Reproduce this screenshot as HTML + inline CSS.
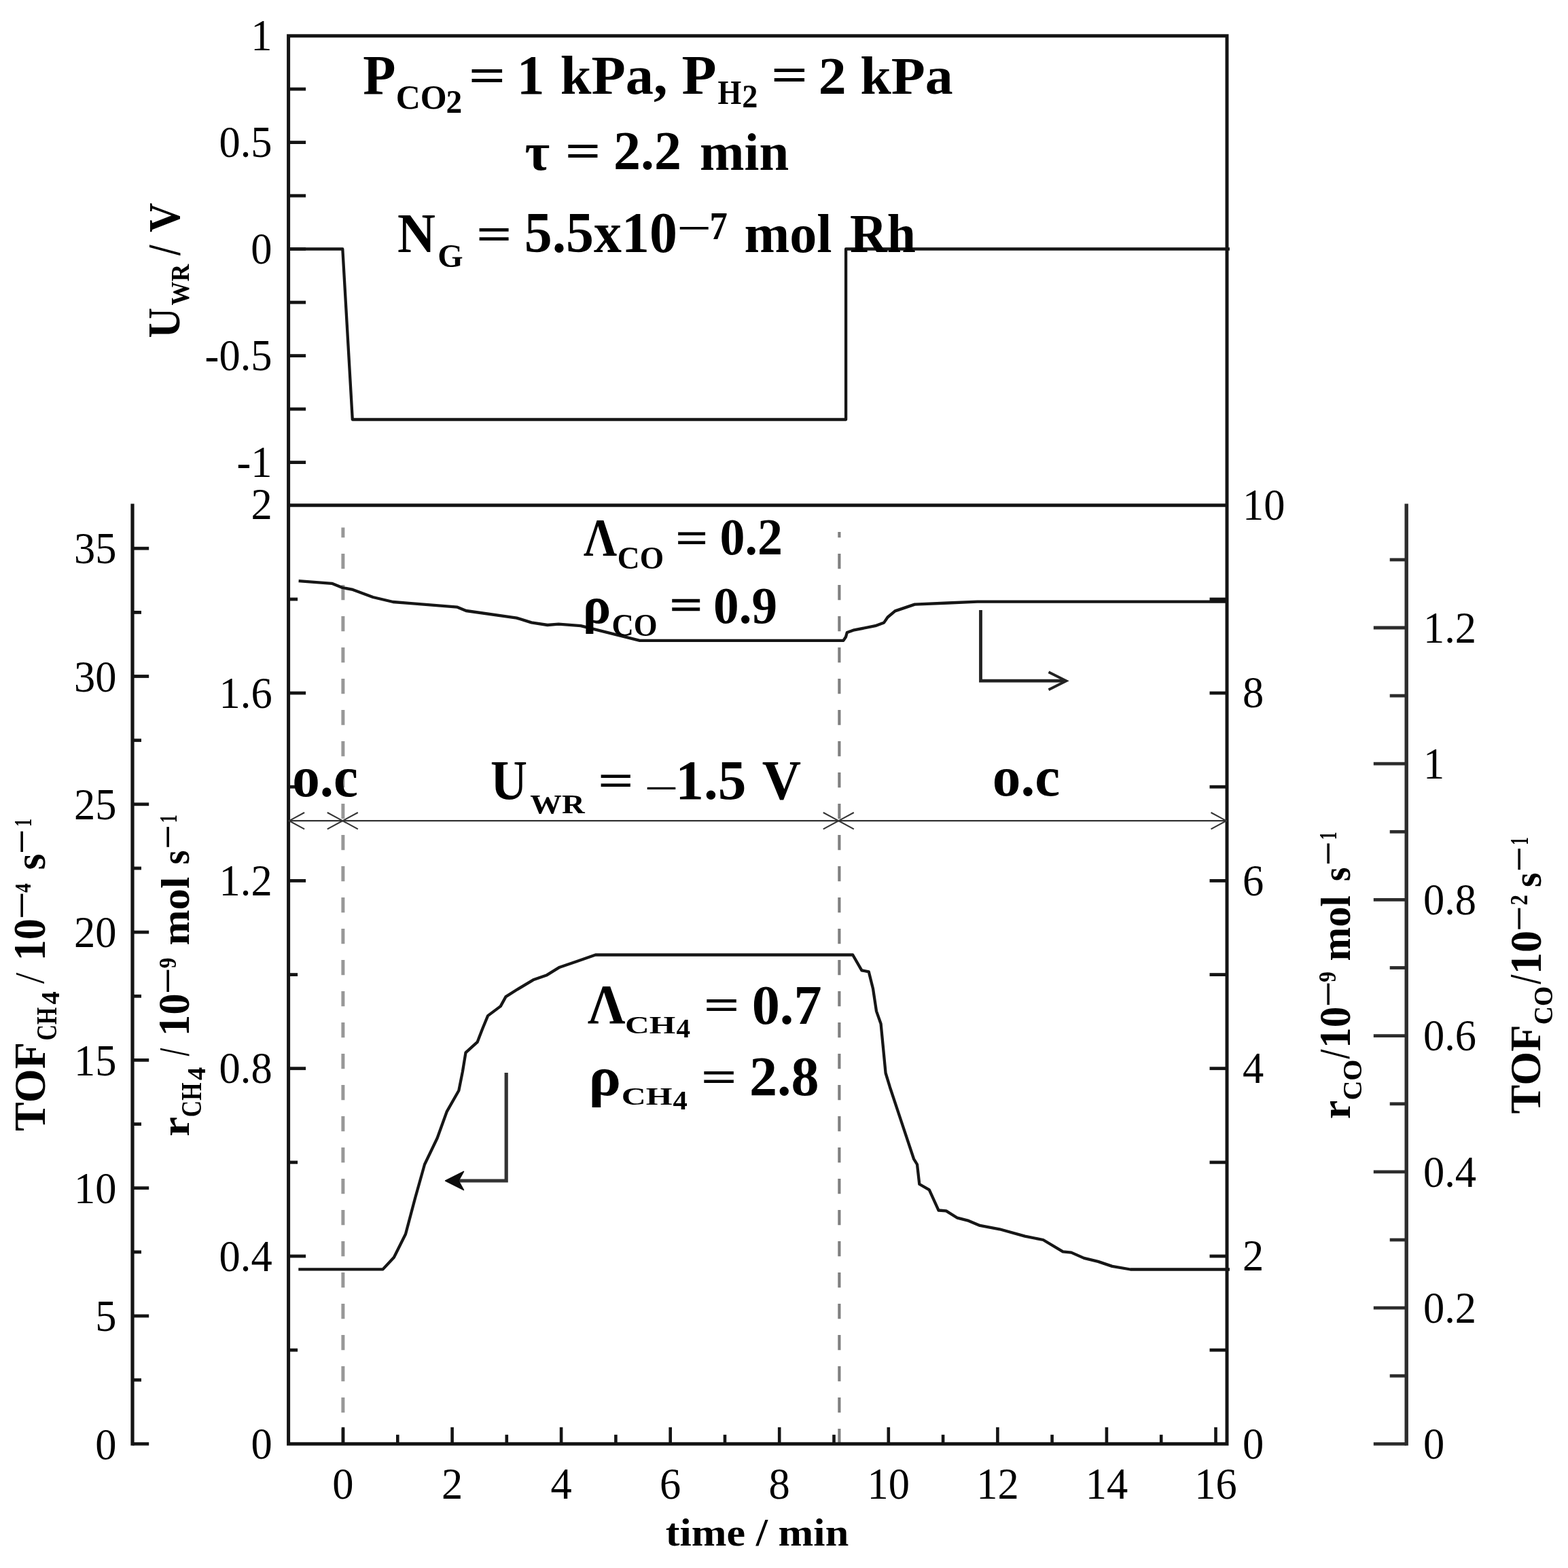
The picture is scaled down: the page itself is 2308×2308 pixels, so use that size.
<!DOCTYPE html>
<html lang="en">
<head>
<meta charset="utf-8">
<title>Transient rate response</title>
<style>html,body{margin:0;padding:0;background:#fff}svg{display:block}text{white-space:pre}</style>
</head>
<body>
<svg xmlns="http://www.w3.org/2000/svg" width="2308" height="2308" viewBox="0 0 2308 2308" font-family='"Liberation Serif", serif' fill="#000">
<rect width="2308" height="2308" fill="#fff"/>
<g id="dashes">
<line x1="504.9" y1="2125.3" x2="504.9" y2="776.5" stroke="#989898" stroke-width="5.0" stroke-dasharray="22.4 23.6"/>
<line x1="1235.4" y1="2125.3" x2="1235.4" y2="783.0" stroke="#808080" stroke-width="4.2" stroke-dasharray="22.4 23.6"/>
</g>
<g id="axes" fill="none">
<rect x="424.6" y="52.8" width="1381.4" height="2072.5" stroke="#141414" stroke-width="5.0" fill="none"/>
<line x1="424.6" y1="743.8" x2="1806.0" y2="743.8" stroke="#141414" stroke-width="5.0" />
<line x1="424.6" y1="131.1" x2="450.1" y2="131.1" stroke="#141414" stroke-width="4.8" />
<line x1="424.6" y1="209.6" x2="450.1" y2="209.6" stroke="#141414" stroke-width="4.8" />
<line x1="424.6" y1="288.1" x2="450.1" y2="288.1" stroke="#141414" stroke-width="4.8" />
<line x1="424.6" y1="366.6" x2="450.1" y2="366.6" stroke="#141414" stroke-width="4.8" />
<line x1="424.6" y1="445.1" x2="450.1" y2="445.1" stroke="#141414" stroke-width="4.8" />
<line x1="424.6" y1="523.6" x2="450.1" y2="523.6" stroke="#141414" stroke-width="4.8" />
<line x1="424.6" y1="602.1" x2="450.1" y2="602.1" stroke="#141414" stroke-width="4.8" />
<line x1="424.6" y1="680.6" x2="450.1" y2="680.6" stroke="#141414" stroke-width="4.8" />
<line x1="424.6" y1="1987.2" x2="438.1" y2="1987.2" stroke="#141414" stroke-width="4.8" />
<line x1="424.6" y1="1849.0" x2="450.1" y2="1849.0" stroke="#141414" stroke-width="4.8" />
<line x1="424.6" y1="1710.9" x2="438.1" y2="1710.9" stroke="#141414" stroke-width="4.8" />
<line x1="424.6" y1="1572.7" x2="450.1" y2="1572.7" stroke="#141414" stroke-width="4.8" />
<line x1="424.6" y1="1434.6" x2="438.1" y2="1434.6" stroke="#141414" stroke-width="4.8" />
<line x1="424.6" y1="1296.4" x2="450.1" y2="1296.4" stroke="#141414" stroke-width="4.8" />
<line x1="424.6" y1="1158.2" x2="438.1" y2="1158.2" stroke="#141414" stroke-width="4.8" />
<line x1="424.6" y1="1020.1" x2="450.1" y2="1020.1" stroke="#141414" stroke-width="4.8" />
<line x1="424.6" y1="882.0" x2="438.1" y2="882.0" stroke="#141414" stroke-width="4.8" />
<line x1="1806.0" y1="1987.2" x2="1780.5" y2="1987.2" stroke="#141414" stroke-width="4.8" />
<line x1="1806.0" y1="1849.0" x2="1780.5" y2="1849.0" stroke="#141414" stroke-width="4.8" />
<line x1="1806.0" y1="1710.9" x2="1780.5" y2="1710.9" stroke="#141414" stroke-width="4.8" />
<line x1="1806.0" y1="1572.7" x2="1780.5" y2="1572.7" stroke="#141414" stroke-width="4.8" />
<line x1="1806.0" y1="1434.6" x2="1780.5" y2="1434.6" stroke="#141414" stroke-width="4.8" />
<line x1="1806.0" y1="1296.4" x2="1780.5" y2="1296.4" stroke="#141414" stroke-width="4.8" />
<line x1="1806.0" y1="1158.2" x2="1780.5" y2="1158.2" stroke="#141414" stroke-width="4.8" />
<line x1="1806.0" y1="1020.1" x2="1780.5" y2="1020.1" stroke="#141414" stroke-width="4.8" />
<line x1="1806.0" y1="882.0" x2="1780.5" y2="882.0" stroke="#141414" stroke-width="4.8" />
<line x1="505.0" y1="2125.3" x2="505.0" y2="2100.8" stroke="#141414" stroke-width="4.6" />
<line x1="585.3" y1="2125.3" x2="585.3" y2="2111.8" stroke="#141414" stroke-width="4.6" />
<line x1="665.6" y1="2125.3" x2="665.6" y2="2100.8" stroke="#141414" stroke-width="4.6" />
<line x1="745.8" y1="2125.3" x2="745.8" y2="2111.8" stroke="#141414" stroke-width="4.6" />
<line x1="826.1" y1="2125.3" x2="826.1" y2="2100.8" stroke="#141414" stroke-width="4.6" />
<line x1="906.4" y1="2125.3" x2="906.4" y2="2111.8" stroke="#141414" stroke-width="4.6" />
<line x1="986.7" y1="2125.3" x2="986.7" y2="2100.8" stroke="#141414" stroke-width="4.6" />
<line x1="1067.0" y1="2125.3" x2="1067.0" y2="2111.8" stroke="#141414" stroke-width="4.6" />
<line x1="1147.2" y1="2125.3" x2="1147.2" y2="2100.8" stroke="#141414" stroke-width="4.6" />
<line x1="1227.5" y1="2125.3" x2="1227.5" y2="2111.8" stroke="#141414" stroke-width="4.6" />
<line x1="1307.8" y1="2125.3" x2="1307.8" y2="2100.8" stroke="#141414" stroke-width="4.6" />
<line x1="1388.1" y1="2125.3" x2="1388.1" y2="2111.8" stroke="#141414" stroke-width="4.6" />
<line x1="1468.4" y1="2125.3" x2="1468.4" y2="2100.8" stroke="#141414" stroke-width="4.6" />
<line x1="1548.6" y1="2125.3" x2="1548.6" y2="2111.8" stroke="#141414" stroke-width="4.6" />
<line x1="1628.9" y1="2125.3" x2="1628.9" y2="2100.8" stroke="#141414" stroke-width="4.6" />
<line x1="1709.2" y1="2125.3" x2="1709.2" y2="2111.8" stroke="#141414" stroke-width="4.6" />
<line x1="1789.5" y1="2125.3" x2="1789.5" y2="2100.8" stroke="#141414" stroke-width="4.6" />
<line x1="195.0" y1="741.5" x2="195.0" y2="2127.8" stroke="#141414" stroke-width="5.2" />
<line x1="195.0" y1="2125.3" x2="219.2" y2="2125.3" stroke="#141414" stroke-width="4.8" />
<line x1="195.0" y1="2031.2" x2="208.0" y2="2031.2" stroke="#141414" stroke-width="4.8" />
<line x1="195.0" y1="1937.0" x2="219.2" y2="1937.0" stroke="#141414" stroke-width="4.8" />
<line x1="195.0" y1="1842.9" x2="208.0" y2="1842.9" stroke="#141414" stroke-width="4.8" />
<line x1="195.0" y1="1748.7" x2="219.2" y2="1748.7" stroke="#141414" stroke-width="4.8" />
<line x1="195.0" y1="1654.6" x2="208.0" y2="1654.6" stroke="#141414" stroke-width="4.8" />
<line x1="195.0" y1="1560.4" x2="219.2" y2="1560.4" stroke="#141414" stroke-width="4.8" />
<line x1="195.0" y1="1466.3" x2="208.0" y2="1466.3" stroke="#141414" stroke-width="4.8" />
<line x1="195.0" y1="1372.1" x2="219.2" y2="1372.1" stroke="#141414" stroke-width="4.8" />
<line x1="195.0" y1="1278.0" x2="208.0" y2="1278.0" stroke="#141414" stroke-width="4.8" />
<line x1="195.0" y1="1183.8" x2="219.2" y2="1183.8" stroke="#141414" stroke-width="4.8" />
<line x1="195.0" y1="1089.7" x2="208.0" y2="1089.7" stroke="#141414" stroke-width="4.8" />
<line x1="195.0" y1="995.5" x2="219.2" y2="995.5" stroke="#141414" stroke-width="4.8" />
<line x1="195.0" y1="901.4" x2="208.0" y2="901.4" stroke="#141414" stroke-width="4.8" />
<line x1="195.0" y1="807.2" x2="219.2" y2="807.2" stroke="#141414" stroke-width="4.8" />
<line x1="2070.2" y1="741.5" x2="2070.2" y2="2127.8" stroke="#2c2c2c" stroke-width="5.4" />
<line x1="2070.2" y1="2125.3" x2="2021.8" y2="2125.3" stroke="#2c2c2c" stroke-width="4.8" />
<line x1="2070.2" y1="2025.2" x2="2045.7" y2="2025.2" stroke="#2c2c2c" stroke-width="4.8" />
<line x1="2070.2" y1="1925.1" x2="2021.8" y2="1925.1" stroke="#2c2c2c" stroke-width="4.8" />
<line x1="2070.2" y1="1825.0" x2="2045.7" y2="1825.0" stroke="#2c2c2c" stroke-width="4.8" />
<line x1="2070.2" y1="1724.9" x2="2021.8" y2="1724.9" stroke="#2c2c2c" stroke-width="4.8" />
<line x1="2070.2" y1="1624.8" x2="2045.7" y2="1624.8" stroke="#2c2c2c" stroke-width="4.8" />
<line x1="2070.2" y1="1524.6" x2="2021.8" y2="1524.6" stroke="#2c2c2c" stroke-width="4.8" />
<line x1="2070.2" y1="1424.5" x2="2045.7" y2="1424.5" stroke="#2c2c2c" stroke-width="4.8" />
<line x1="2070.2" y1="1324.4" x2="2021.8" y2="1324.4" stroke="#2c2c2c" stroke-width="4.8" />
<line x1="2070.2" y1="1224.3" x2="2045.7" y2="1224.3" stroke="#2c2c2c" stroke-width="4.8" />
<line x1="2070.2" y1="1124.2" x2="2021.8" y2="1124.2" stroke="#2c2c2c" stroke-width="4.8" />
<line x1="2070.2" y1="1024.1" x2="2045.7" y2="1024.1" stroke="#2c2c2c" stroke-width="4.8" />
<line x1="2070.2" y1="924.0" x2="2021.8" y2="924.0" stroke="#2c2c2c" stroke-width="4.8" />
<line x1="2070.2" y1="823.9" x2="2045.7" y2="823.9" stroke="#2c2c2c" stroke-width="4.8" />
</g>
<g id="curves" fill="none" stroke="#161616" stroke-width="4.3" stroke-linejoin="round">
<polyline points="424.6,366.5 504.3,366.5 518.8,617.5 1245.1,617.5 1245.1,366.5 1810.0,366.5"/>
<polyline points="439.6,855.2 488.5,858.8 504,865 518,867.6 549,879 578.6,886 601.9,887.8 673.3,893.7 686,899 760.6,909.6 782.3,916.4 805.9,920 822.2,918.6 854.8,921.2 876.5,926.6 941.7,942.9 1241.4,942.9 1245,937.5 1246.8,931 1255.9,927.7 1288.5,921.2 1301.2,916.4 1306.6,908.5 1317.5,899.4 1346.4,889.6 1395.4,887.5 1438.8,885.7 1806,885.7"/>
<polyline points="439.3,1868.4 563.5,1868.4 579.9,1850.7 597,1816.5 611,1763.7 625,1714 643.6,1675.2 657.6,1636.4 675.3,1605.3 680.9,1577.4 685.5,1549.4 702.6,1533.9 710.4,1513.7 718.1,1495.1 736.8,1481.1 744.5,1467.1 761.6,1456.3 784.9,1442.3 805.1,1435.2 823.7,1423.7 848.6,1415.3 876.5,1405.5 1255.2,1405.5 1268.4,1428.3 1278.8,1430.4 1285,1455.2 1290,1488.4 1296.6,1507 1303.6,1579.5 1309.9,1600.2 1326.4,1649.9 1345,1705.8 1350,1714 1353.3,1743 1367.8,1751.3 1381.5,1781.5 1392.7,1782.4 1409.2,1792.7 1425.8,1796.9 1442.4,1803.9 1471.3,1809.3 1508.6,1819.6 1535.5,1825 1564.5,1842.4 1576.9,1843.6 1595.6,1851.9 1616.3,1856.9 1637,1863.9 1663.9,1868.5 1810,1868.5"/>
</g>
<line x1="1783.0" y1="883.5" x2="1806.0" y2="883.5" stroke="#141414" stroke-width="6" />
<g id="arrows" fill="none" stroke="#333" stroke-linecap="butt">
<path d="M424.6,1208.2 H1806.0" stroke-width="2.3"/>
<path d="M448.1,1196.0 L425.6,1208.2 L448.1,1220.4" stroke-width="2.0"/>
<path d="M481.8,1196.0 L504.3,1208.2 L481.8,1220.4" stroke-width="2.0"/>
<path d="M526.8,1196.0 L504.3,1208.2 L526.8,1220.4" stroke-width="2.0"/>
<path d="M1211.8,1196.0 L1234.3,1208.2 L1211.8,1220.4" stroke-width="2.0"/>
<path d="M1256.8,1196.0 L1234.3,1208.2 L1256.8,1220.4" stroke-width="2.0"/>
<path d="M1782.5,1196.0 L1805.0,1208.2 L1782.5,1220.4" stroke-width="2.0"/>
<path d="M1443.5,898 V1002.2 H1566" stroke-width="4.8" stroke="#222"/>
<path d="M1543.5,989.2 L1569.5,1002.2 L1543.5,1015.2" stroke-width="3.8" stroke="#222"/>
<path d="M745.2,1579 V1738 H668" stroke-width="5.2"/>
</g>
<path d="M655.6,1738 L682.5,1724.3 L675,1738 L682.5,1751.7 Z" fill="#0c0c0c" stroke="#0c0c0c" stroke-width="1.5" stroke-linejoin="round"/>
<g id="ticklabels">
<text transform="translate(400.5,73.6) scale(1,1.055)" font-size="62.5" text-anchor="end">1</text>
<text transform="translate(400.5,230.6) scale(1,1.055)" font-size="62.5" text-anchor="end">0.5</text>
<text transform="translate(400.5,387.6) scale(1,1.055)" font-size="62.5" text-anchor="end">0</text>
<text transform="translate(400.5,544.6) scale(1,1.055)" font-size="62.5" text-anchor="end">-0.5</text>
<text transform="translate(400.5,701.6) scale(1,1.055)" font-size="62.5" text-anchor="end">-1</text>
<text transform="translate(400.7,2147.0) scale(1,1.055)" font-size="62.5" text-anchor="end">0</text>
<text transform="translate(400.7,1870.7) scale(1,1.055)" font-size="62.5" text-anchor="end">0.4</text>
<text transform="translate(400.7,1594.4) scale(1,1.055)" font-size="62.5" text-anchor="end">0.8</text>
<text transform="translate(400.7,1318.1) scale(1,1.055)" font-size="62.5" text-anchor="end">1.2</text>
<text transform="translate(400.7,1041.8) scale(1,1.055)" font-size="62.5" text-anchor="end">1.6</text>
<text transform="translate(400.7,764.0) scale(1,1.055)" font-size="62.5" text-anchor="end">2</text>
<text transform="translate(1829.0,2146.5) scale(1,1.055)" font-size="62.5">0</text>
<text transform="translate(1829.0,1870.2) scale(1,1.055)" font-size="62.5">2</text>
<text transform="translate(1829.0,1593.9) scale(1,1.055)" font-size="62.5">4</text>
<text transform="translate(1829.0,1317.6) scale(1,1.055)" font-size="62.5">6</text>
<text transform="translate(1829.0,1041.3) scale(1,1.055)" font-size="62.5">8</text>
<text transform="translate(1829.0,765.0) scale(1,1.055)" font-size="62.5">10</text>
<text transform="translate(505.0,2205.8) scale(1,1.055)" font-size="62.5" text-anchor="middle">0</text>
<text transform="translate(665.6,2205.8) scale(1,1.055)" font-size="62.5" text-anchor="middle">2</text>
<text transform="translate(826.1,2205.8) scale(1,1.055)" font-size="62.5" text-anchor="middle">4</text>
<text transform="translate(986.7,2205.8) scale(1,1.055)" font-size="62.5" text-anchor="middle">6</text>
<text transform="translate(1147.2,2205.8) scale(1,1.055)" font-size="62.5" text-anchor="middle">8</text>
<text transform="translate(1307.8,2205.8) scale(1,1.055)" font-size="62.5" text-anchor="middle">10</text>
<text transform="translate(1468.4,2205.8) scale(1,1.055)" font-size="62.5" text-anchor="middle">12</text>
<text transform="translate(1628.9,2205.8) scale(1,1.055)" font-size="62.5" text-anchor="middle">14</text>
<text transform="translate(1789.5,2205.8) scale(1,1.055)" font-size="62.5" text-anchor="middle">16</text>
<text transform="translate(171.5,2147.5) scale(1,1.055)" font-size="62.5" text-anchor="end">0</text>
<text transform="translate(171.5,1959.2) scale(1,1.055)" font-size="62.5" text-anchor="end">5</text>
<text transform="translate(171.5,1770.9) scale(1,1.055)" font-size="62.5" text-anchor="end">10</text>
<text transform="translate(171.5,1582.6) scale(1,1.055)" font-size="62.5" text-anchor="end">15</text>
<text transform="translate(171.5,1394.3) scale(1,1.055)" font-size="62.5" text-anchor="end">20</text>
<text transform="translate(171.5,1206.0) scale(1,1.055)" font-size="62.5" text-anchor="end">25</text>
<text transform="translate(171.5,1017.7) scale(1,1.055)" font-size="62.5" text-anchor="end">30</text>
<text transform="translate(171.5,829.4) scale(1,1.055)" font-size="62.5" text-anchor="end">35</text>
<text transform="translate(2095.0,2147.0) scale(1,1.055)" font-size="62.5">0</text>
<text transform="translate(2095.0,1946.8) scale(1,1.055)" font-size="62.5">0.2</text>
<text transform="translate(2095.0,1746.6) scale(1,1.055)" font-size="62.5">0.4</text>
<text transform="translate(2095.0,1546.4) scale(1,1.055)" font-size="62.5">0.6</text>
<text transform="translate(2095.0,1346.1) scale(1,1.055)" font-size="62.5">0.8</text>
<text transform="translate(2095.0,1145.9) scale(1,1.055)" font-size="62.5">1</text>
<text transform="translate(2095.0,945.7) scale(1,1.055)" font-size="62.5">1.2</text>
</g>
<g id="titles">
<text transform="translate(979.8,2275.0) scale(1,0.932)" font-size="62.2" font-weight="bold">time / min</text>
<text transform="translate(264.3,497.6) rotate(-90) scale(1,1.084)" font-size="61.7" font-weight="bold">U</text>
<text transform="translate(278.3,449.4) rotate(-90) scale(1,1.059)" font-size="35.1" font-weight="bold">WR</text>
<text transform="translate(263.6,375.7) rotate(-90) scale(1,1.240)" font-size="53.8" font-weight="bold">/</text>
<text transform="translate(263.5,341.9) rotate(-90) scale(1,1.095)" font-size="60.0" font-weight="bold">V</text>
<text transform="translate(65.6,1664.9) rotate(-90) scale(1,1.033)" font-size="64.2" font-weight="bold">TOF</text>
<text transform="translate(82.7,1531.5) rotate(-90) scale(1,1.285)" font-size="32.4" font-weight="bold">CH</text>
<text transform="translate(87.3,1478.6) rotate(-90) scale(1,0.977)" font-size="38.3" font-weight="bold">4</text>
<text transform="translate(64.2,1447.9) rotate(-90) scale(1,1.043)" font-size="58.4">/</text>
<text transform="translate(65.9,1414.3) rotate(-90) scale(1,1.078)" font-size="62.1" font-weight="bold">10</text>
<text transform="translate(56.3,1353.5) rotate(-90) scale(1,0.979)" font-size="73.5">−</text>
<text transform="translate(44.6,1313.9) rotate(-90) scale(1,1.247)" font-size="27.4" font-weight="bold">4</text>
<text transform="translate(66.0,1280.4) rotate(-90) scale(1,1.047)" font-size="61.5" font-weight="bold">s</text>
<text transform="translate(56.3,1257.3) rotate(-90) scale(1,1.105)" font-size="65.2">−</text>
<text transform="translate(45.8,1216.7) rotate(-90) scale(1,1.534)" font-size="23.4" font-weight="bold">1</text>
<text transform="translate(278.3,1672.8) rotate(-90) scale(1,0.901)" font-size="65.3" font-weight="bold">r</text>
<text transform="translate(296.2,1644.2) rotate(-90) scale(1,1.230)" font-size="33.7" font-weight="bold">CH</text>
<text transform="translate(301.6,1590.0) rotate(-90) scale(1,0.968)" font-size="38.5" font-weight="bold">4</text>
<text transform="translate(277.7,1554.1) rotate(-90) scale(1,1.651)" font-size="38.7" font-weight="bold">/</text>
<text transform="translate(278.2,1525.2) rotate(-90) scale(1,1.032)" font-size="63.0" font-weight="bold">10</text>
<text transform="translate(271.1,1463.5) rotate(-90) scale(1,1.033)" font-size="69.7">−</text>
<text transform="translate(259.1,1425.2) rotate(-90) scale(1,1.172)" font-size="31.1" font-weight="bold">9</text>
<text transform="translate(278.3,1391.6) rotate(-90) scale(1,0.934)" font-size="62.7" font-weight="bold">mol</text>
<text transform="translate(278.3,1272.5) rotate(-90) scale(1,1.095)" font-size="54.0" font-weight="bold">s</text>
<text transform="translate(271.1,1250.1) rotate(-90) scale(1,1.127)" font-size="63.9">−</text>
<text transform="translate(259.5,1211.2) rotate(-90) scale(1,1.489)" font-size="24.2" font-weight="bold">1</text>
<text transform="translate(1986.6,1647.2) rotate(-90) scale(1,0.990)" font-size="62.0" font-weight="bold">r</text>
<text transform="translate(2003.7,1619.6) rotate(-90) scale(1,0.980)" font-size="40.1" font-weight="bold">CO</text>
<text transform="translate(1986.0,1558.2) rotate(-90) scale(1,1.328)" font-size="47.4" font-weight="bold">/</text>
<text transform="translate(1986.6,1542.9) rotate(-90) scale(1,1.059)" font-size="61.4" font-weight="bold">10</text>
<text transform="translate(1978.9,1482.5) rotate(-90) scale(1,1.059)" font-size="68.0">−</text>
<text transform="translate(1965.9,1445.7) rotate(-90) scale(1,1.121)" font-size="31.3" font-weight="bold">9</text>
<text transform="translate(1986.7,1414.5) rotate(-90) scale(1,1.011)" font-size="59.9" font-weight="bold">mol</text>
<text transform="translate(1986.7,1297.3) rotate(-90) scale(1,1.101)" font-size="53.7" font-weight="bold">s</text>
<text transform="translate(1978.9,1274.3) rotate(-90) scale(1,1.131)" font-size="63.7">−</text>
<text transform="translate(1967.2,1236.1) rotate(-90) scale(1,1.538)" font-size="22.9" font-weight="bold">1</text>
<text transform="translate(2267.2,1639.4) rotate(-90) scale(1,0.994)" font-size="64.2" font-weight="bold">TOF</text>
<text transform="translate(2284.6,1508.2) rotate(-90) scale(1,1.064)" font-size="37.7" font-weight="bold">CO</text>
<text transform="translate(2267.0,1448.2) rotate(-90) scale(1,1.369)" font-size="47.4" font-weight="bold">/</text>
<text transform="translate(2267.5,1434.3) rotate(-90) scale(1,1.022)" font-size="64.5" font-weight="bold">10</text>
<text transform="translate(2259.5,1370.9) rotate(-90) scale(1,1.080)" font-size="66.7">−</text>
<text transform="translate(2248.1,1332.6) rotate(-90) scale(1,1.194)" font-size="30.8" font-weight="bold">2</text>
<text transform="translate(2267.6,1305.9) rotate(-90) scale(1,1.060)" font-size="55.8" font-weight="bold">s</text>
<text transform="translate(2259.5,1283.5) rotate(-90) scale(1,1.080)" font-size="66.7">−</text>
<text transform="translate(2248.8,1243.8) rotate(-90) scale(1,1.644)" font-size="22.6" font-weight="bold">1</text>
</g>
<g id="annot">
<text transform="translate(534.2,138.3) scale(1,1.052)" font-size="78.9" font-weight="bold">P</text>
<text transform="translate(582.8,160.1) scale(1,0.995)" font-size="49.9" font-weight="bold">CO</text>
<text transform="translate(656.6,165.6) scale(1,1.043)" font-size="47.5" font-weight="bold">2</text>
<text transform="translate(689.8,135.4) scale(1,0.738)" font-size="95.9" font-weight="bold">=</text>
<text transform="translate(760.8,138.3) scale(1,1.010)" font-size="81.6" font-weight="bold">1</text>
<text transform="translate(824.8,138.2) scale(1,0.964)" font-size="82.3" font-weight="bold">kPa,</text>
<text transform="translate(1003.5,138.3) scale(1,0.992)" font-size="83.7" font-weight="bold">P</text>
<text transform="translate(1056.4,153.0) scale(1,1.137)" font-size="44.8" font-weight="bold">H</text>
<text transform="translate(1092.2,158.4) scale(1,1.054)" font-size="46.3" font-weight="bold">2</text>
<text transform="translate(1135.0,133.8) scale(1,0.731)" font-size="95.3" font-weight="bold">=</text>
<text transform="translate(1204.8,138.1) scale(1,0.967)" font-size="81.9" font-weight="bold">2 kPa</text>
<text transform="translate(772.5,249.9) scale(1,0.979)" font-size="79.5" font-weight="bold">τ</text>
<text transform="translate(831.8,245.5) scale(1,0.751)" font-size="92.7" font-weight="bold">=</text>
<text transform="translate(903.1,249.1) scale(1,1.017)" font-size="80.0" font-weight="bold">2.2</text>
<text transform="translate(1030.0,250.3) scale(1,1.007)" font-size="78.7" font-weight="bold">min</text>
<text transform="translate(585.1,371.4) scale(1,1.069)" font-size="77.4" font-weight="bold">N</text>
<text transform="translate(644.3,393.0) scale(1,1.010)" font-size="48.0" font-weight="bold">G</text>
<text transform="translate(701.1,367.2) scale(1,0.733)" font-size="92.5" font-weight="bold">=</text>
<text transform="translate(771.7,370.6) scale(1,1.027)" font-size="81.9" font-weight="bold">5.5x10</text>
<text transform="translate(996.3,360.9) scale(1,0.841)" font-size="90.3">−</text>
<text transform="translate(1044.5,351.6) scale(1,1.086)" font-size="52.7" font-weight="bold">7</text>
<text transform="translate(1095.4,370.5) scale(1,0.992)" font-size="80.2" font-weight="bold">mol</text>
<text transform="translate(1251.0,370.9) scale(1,1.058)" font-size="75.7" font-weight="bold">Rh</text>
<text transform="translate(859.0,817.1) scale(1,1.148)" font-size="68.5" font-weight="bold">Λ</text>
<text transform="translate(908.8,836.8) scale(1,1.036)" font-size="45.5" font-weight="bold">CO</text>
<text transform="translate(994.1,814.0) scale(1,0.767)" font-size="85.4" font-weight="bold" stroke="#000" stroke-width="0.28">=</text>
<text transform="translate(1059.4,816.2) scale(1,1.029)" font-size="74.0" font-weight="bold">0.2</text>
<text transform="translate(857.7,916.6) scale(1,0.970)" font-size="77.9" font-weight="bold">ρ</text>
<text transform="translate(900.5,936.2) scale(1,1.054)" font-size="44.8" font-weight="bold">CO</text>
<text transform="translate(985.3,912.3) scale(1,0.726)" font-size="86.8" font-weight="bold" stroke="#000" stroke-width="0.54">=</text>
<text transform="translate(1050.1,916.7) scale(1,1.019)" font-size="75.3" font-weight="bold">0.9</text>
<text transform="translate(430.3,1172.2) scale(1,1.033)" font-size="81.1" font-weight="bold">o.c</text>
<text transform="translate(1460.8,1171.3) scale(1,1.000)" font-size="83.3" font-weight="bold">o.c</text>
<text transform="translate(722.1,1176.1) scale(1,1.114)" font-size="74.9" font-weight="bold">U</text>
<text transform="translate(780.2,1197.0) scale(1,0.863)" font-size="46.7" font-weight="bold">WR</text>
<text transform="translate(880.3,1171.1) scale(1,0.715)" font-size="92.4" font-weight="bold" stroke="#000" stroke-width="0.25">=</text>
<text transform="translate(953.3,1176.3) scale(1,0.840)" font-size="81.0">–</text>
<text transform="translate(994.2,1175.9) scale(1,0.990)" font-size="83.4" font-weight="bold">1.5</text>
<text transform="translate(1121.7,1176.3) scale(1,1.039)" font-size="79.4" font-weight="bold">V</text>
<text transform="translate(865.1,1505.6) scale(1,1.056)" font-size="77.3" font-weight="bold">Λ</text>
<text transform="translate(920.0,1520.7) scale(1,0.744)" font-size="49.5" font-weight="bold">CH</text>
<text transform="translate(995.5,1527.0) scale(1,0.985)" font-size="41.1" font-weight="bold">4</text>
<text transform="translate(1035.8,1501.2) scale(1,0.681)" font-size="93.3" font-weight="bold" stroke="#000" stroke-width="0.23">=</text>
<text transform="translate(1106.7,1507.4) scale(1,1.010)" font-size="82.3" font-weight="bold">0.7</text>
<text transform="translate(866.3,1612.1) scale(1,0.912)" font-size="89.7" font-weight="bold">ρ</text>
<text transform="translate(914.8,1626.3) scale(1,0.715)" font-size="49.9" font-weight="bold">CH</text>
<text transform="translate(990.6,1632.5) scale(1,0.940)" font-size="42.6" font-weight="bold">4</text>
<text transform="translate(1031.7,1606.7) scale(1,0.685)" font-size="93.4" font-weight="bold" stroke="#000" stroke-width="0.18">=</text>
<text transform="translate(1102.9,1612.4) scale(1,0.996)" font-size="82.1" font-weight="bold">2.8</text>
</g>
</svg>
</body>
</html>
